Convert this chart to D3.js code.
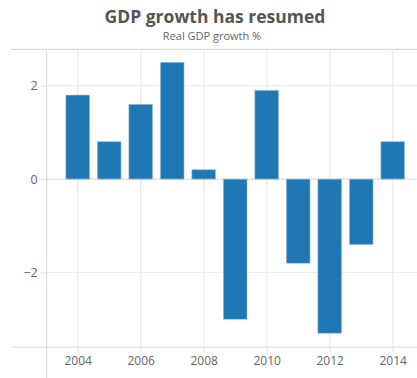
<!DOCTYPE html>
<html>
<head>
<meta charset="utf-8">
<script src="https://cdn.jsdelivr.net/npm/d3@7"></script>
<style>
  html, body { margin: 0; padding: 0; background: #fff; }
  svg { display: block; font-family: "Open Sans", "DejaVu Sans", sans-serif; }
</style>
</head>
<body>
<svg id="chart" width="417" height="378"></svg>
<script>
// Real GDP growth by year (%)
const years = [2004, 2005, 2006, 2007, 2008, 2009, 2010, 2011, 2012, 2013, 2014];
const growth = [1.8, 0.8, 1.6, 2.5, 0.2, -3.0, 1.9, -1.8, -3.3, -1.4, 0.8];
const xTicks = [2004, 2006, 2008, 2010, 2012, 2014];
const yTicks = [-2, 0, 2];

const title = "GDP growth has resumed";
const subtitle = "Real GDP growth %";

const W = 417, H = 378;
const plot = { left: 46.7, top: 49.3, bottom: 347.2 };

const svg = d3.select("#chart");

const x = d3.scaleLinear().domain([2003, 2015]).range([46.2, 46.2 + 12 * 31.5]);
const y = d3.scaleLinear().domain([-3.6, 2.78]).range([plot.bottom, plot.top]);

// Titles
svg.append("text")
  .attr("x", 215).attr("y", 22.5)
  .attr("text-anchor", "middle")
  .attr("font-size", 17.5).attr("font-weight", "bold")
  .attr("fill", "#555")
  .text(title);
svg.append("text")
  .attr("x", 212).attr("y", 39.5)
  .attr("text-anchor", "middle")
  .attr("font-size", 11)
  .attr("fill", "#666")
  .text(subtitle);

// Gridlines
const grid = svg.append("g");
grid.selectAll(".vg").data(xTicks).join("line")
  .attr("x1", d => x(d)).attr("x2", d => x(d))
  .attr("y1", plot.top).attr("y2", plot.bottom)
  .attr("stroke", "#eeeeee").attr("stroke-width", 1.6);
grid.selectAll(".hg").data(yTicks.filter(d => d !== 0)).join("line")
  .attr("x1", plot.left).attr("x2", W)
  .attr("y1", d => y(d)).attr("y2", d => y(d))
  .attr("stroke", "#eeeeee").attr("stroke-width", 1.2);

// Frame lines
svg.append("line").attr("x1", 11).attr("x2", W).attr("y1", plot.top).attr("y2", plot.top)
  .attr("stroke", "#d9d9d9").attr("stroke-width", 1.2);
svg.append("line").attr("x1", 11).attr("x2", W).attr("y1", plot.bottom).attr("y2", plot.bottom)
  .attr("stroke", "#dddddd").attr("stroke-width", 1.2);
svg.append("line").attr("x1", plot.left).attr("x2", plot.left).attr("y1", plot.top).attr("y2", H)
  .attr("stroke", "#dddddd").attr("stroke-width", 1.2);

// Bars
const barW = 23.6;
svg.append("g").selectAll("rect").data(years).join("rect")
  .attr("x", d => x(d) - barW / 2)
  .attr("width", barW)
  .attr("y", (d, i) => y(Math.max(0, growth[i])))
  .attr("height", (d, i) => Math.abs(y(growth[i]) - y(0)))
  .attr("fill", "#1f77b4")
  .attr("stroke", "#8fb9dc").attr("stroke-width", 0.6);

// Zero baseline
svg.append("line").attr("x1", plot.left).attr("x2", W).attr("y1", y(0)).attr("y2", y(0))
  .attr("stroke", "#aaaaaa").attr("stroke-width", 1).attr("stroke-dasharray", "1,1");

// Y axis
const yAxis = d3.axisLeft(y).tickValues(yTicks).tickSize(6).tickPadding(3).tickFormat(d3.format("d"));
const gy = svg.append("g").attr("transform", `translate(${plot.left},0)`).call(yAxis);
gy.select(".domain").remove();
gy.selectAll(".tick line").attr("stroke", "#dddddd");
gy.selectAll(".tick text").attr("fill", "#666").attr("font-size", 12.5)
  .attr("font-family", "\"Open Sans\", \"DejaVu Sans\", sans-serif");

// X axis
const xAxis = d3.axisBottom(x).tickValues(xTicks).tickSize(5).tickPadding(4).tickFormat(d3.format("d"));
const gx = svg.append("g").attr("transform", `translate(0,${plot.bottom})`).call(xAxis);
gx.select(".domain").remove();
gx.selectAll(".tick line").attr("stroke", "#dddddd");
gx.selectAll(".tick text").attr("fill", "#666").attr("font-size", 12)
  .attr("font-family", "\"Open Sans\", \"DejaVu Sans\", sans-serif");
</script>
</body>
</html>
